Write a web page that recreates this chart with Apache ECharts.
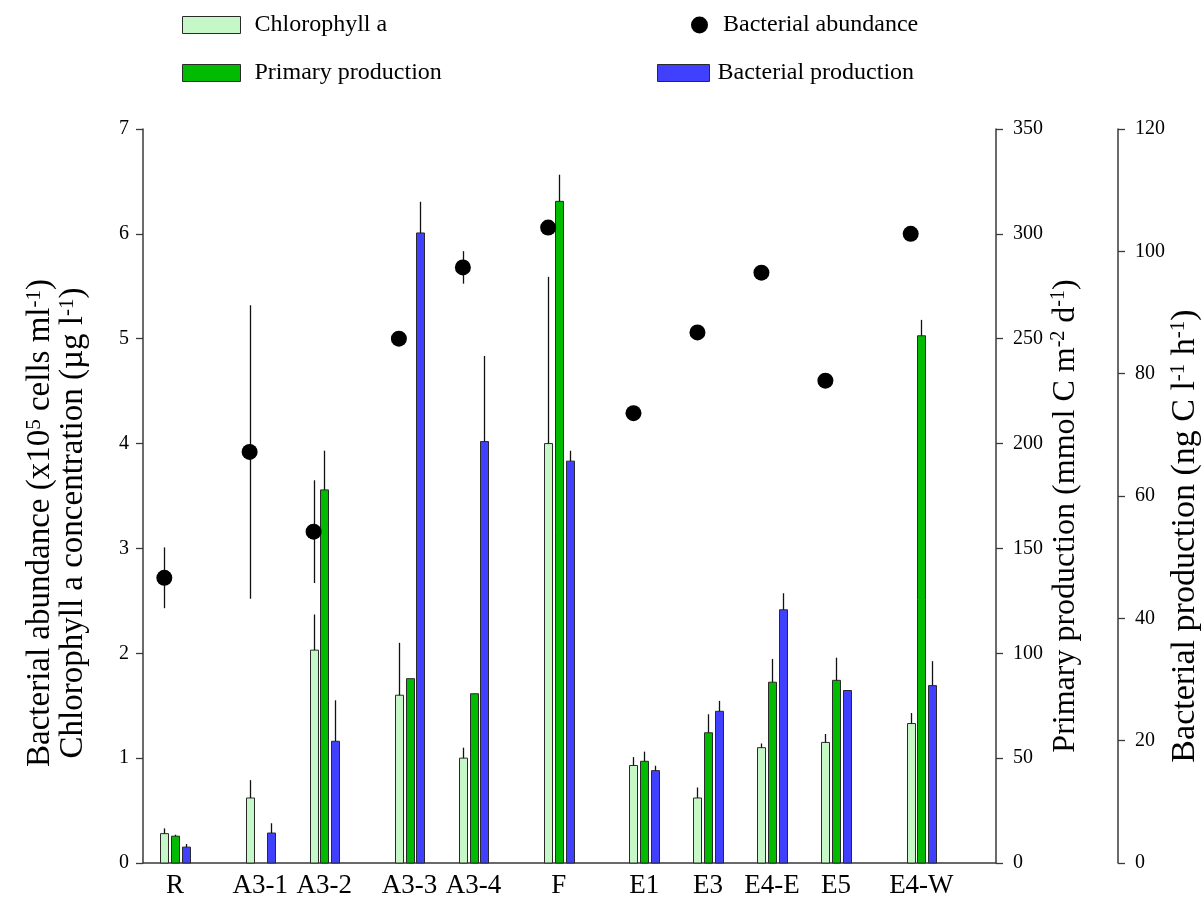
<!DOCTYPE html>
<html>
<head>
<meta charset="utf-8">
<script src="https://cdn.jsdelivr.net/npm/echarts@6/dist/echarts.min.js"></script>
<style>html,body{margin:0;padding:0;background:#fff}#c{width:1202px;height:900px}</style>
</head>
<body>
<div id="c"></div>
<script>
// ---- data ----
const stations = ['R','A3-1','A3-2','A3-3','A3-4','F','E1','E3','E4-E','E5','E4-W'];
const stationPos = [0,4,7,11,14,18,22,25,28,31,35];
const chlA      = [0.28,0.62,2.03,1.60,1.00,4.00,0.93,0.62,1.10,1.15,1.33];
const chlAErr   = [0.05,0.17,0.34,0.50,0.10,1.59,0.08,0.10,0.04,0.08,0.10];
const primProd    = [12.8,null,177.9,87.9,80.7,315.5,48.5,62.1,86.2,87.1,251.4];
const primProdErr = [0.7,null,18.7,0,0,12.7,4.6,8.8,11.1,10.8,7.6];
const bactProd    = [2.6,4.9,19.9,103.0,68.9,65.7,15.1,24.8,41.4,28.2,29.0];
const bactProdErr = [0.5,1.6,6.7,5.1,14.0,1.7,0.8,1.7,2.7,0,4.0];
const bactAbund    = [2.72,3.92,3.16,5.00,5.68,6.06,4.29,5.06,5.63,4.60,6.00];
const bactAbundErr = [0.29,1.40,0.49,0,0.155,0,0,0,0,0,0];
const leftTicks = {min:0,max:7,interval:1};
const ppTicks = {min:0,max:350,interval:50};
const bpTicks = {min:0,max:120,interval:20};

// ---- style ----
const FONT = 'Liberation Serif';
const AXIS_COLOR = '#3a3a3a';
const COL_CHL = '#c6f7c6', COL_PP = '#00bb00', COL_BP = '#4040ff';
const BAR_BORDER = '#2a2a2a';
const SLOT = {chl:-0.5, pp:0, bp:0.5};
const BAR_W = 8;

function barRender(slot, fill) {
  return function (params, api) {
    const x = api.value(0) + slot, v = api.value(1), e = api.value(2);
    if (isNaN(v)) return null;
    const top = api.coord([x, v]);
    const base = api.coord([x, 0]);
    const children = [{
      type: 'rect',
      shape: {x: Math.round(top[0] - BAR_W / 2) + 0.5, y: top[1], width: BAR_W, height: base[1] - top[1]},
      style: {fill: fill, stroke: BAR_BORDER, lineWidth: 1}
    }];
    if (e > 0) {
      const et = api.coord([x, v + e]);
      children.push({type: 'line', shape: {x1: Math.round(top[0]) + 0.5, y1: top[1], x2: Math.round(top[0]) + 0.5, y2: et[1]},
        style: {stroke: '#111', lineWidth: 1.3}});
    }
    return {type: 'group', children: children};
  };
}
function rows(vals, errs) { return stationPos.map((p, i) => [p, vals[i] == null ? NaN : vals[i], errs[i] == null ? 0 : errs[i]]); }

function titleStyles(fs, sfs, lh) {
  return {n: {fontSize: fs, fontFamily: FONT, color: '#000', lineHeight: lh},
          s: {fontSize: sfs, fontFamily: FONT, color: '#000', lineHeight: lh, verticalAlign: 'top'}};
}
const axisCommon = {
  axisLine: {show: true, onZero: false, lineStyle: {color: AXIS_COLOR, width: 1.5}},
  axisTick: {show: true, inside: false, length: 7, lineStyle: {color: AXIS_COLOR, width: 1.3}},
  splitLine: {show: false},
  nameLocation: 'middle', nameRotate: 90, nameMoveOverlap: false
};

const chart = echarts.init(document.getElementById('c'), null, {renderer: 'canvas'});
chart.setOption({
  animation: false,
  backgroundColor: '#fff',
  grid: {left: 143, right: 206, top: 129, bottom: 37, containLabel: false, outerBoundsMode: 'none'},
  legend: [
    {data: [{name: 'Chlorophyll a', icon: 'rect', itemStyle: {color: COL_CHL, borderColor: BAR_BORDER, borderWidth: 1}}],
     left: 177, top: 8, itemWidth: 58, itemHeight: 17, selectedMode: false,
     textStyle: {fontFamily: FONT, fontSize: 24, color: '#000', padding: [0, 0, 0, 9]}},
    {data: [{name: 'Primary production', icon: 'rect', itemStyle: {color: COL_PP, borderColor: BAR_BORDER, borderWidth: 1}}],
     left: 177, top: 56, itemWidth: 58, itemHeight: 17, selectedMode: false,
     textStyle: {fontFamily: FONT, fontSize: 24, color: '#000', padding: [0, 0, 0, 9]}},
    {data: [{name: 'Bacterial abundance', icon: 'circle', itemStyle: {color: '#000', borderWidth: 0}}],
     left: 686, top: 8, itemWidth: 17, itemHeight: 17, selectedMode: false,
     textStyle: {fontFamily: FONT, fontSize: 24, color: '#000', padding: [0, 0, 0, 10]}},
    {data: [{name: 'Bacterial production', icon: 'rect', itemStyle: {color: COL_BP, borderColor: BAR_BORDER, borderWidth: 1}}],
     left: 652, top: 56, itemWidth: 52, itemHeight: 17, selectedMode: false,
     textStyle: {fontFamily: FONT, fontSize: 24, color: '#000', padding: [0, 0, 0, 3]}}
  ],
  xAxis: {type: 'value', min: -1.5, max: 38.5,
    axisLine: {show: true, onZero: false, lineStyle: {color: AXIS_COLOR, width: 1.5}},
    axisTick: {show: false}, axisLabel: {show: false}, splitLine: {show: false}},
  yAxis: [
    Object.assign({}, axisCommon, {type: 'value', position: 'left',
     min: leftTicks.min, max: leftTicks.max, interval: leftTicks.interval,
     axisLabel: {fontFamily: FONT, fontSize: 20, color: '#000', margin: 14},
     name: '{n|Bacterial abundance (x10}{s|5}{n| cells ml}{s|-1}{n|)}\n{n|Chlorophyll a concentration (µg l}{s|-1}{n|)}',
     nameGap: 53,
     nameTextStyle: {fontFamily: FONT, fontSize: 33, color: '#000', lineHeight: 33, padding: [0, 54, 0, 0],
       rich: titleStyles(33, 21, 33)}}),
    Object.assign({}, axisCommon, {type: 'value', position: 'right',
     min: ppTicks.min, max: ppTicks.max, interval: ppTicks.interval,
     axisLabel: {fontFamily: FONT, fontSize: 20, color: '#000', margin: 17},
     name: '{n|Primary production (mmol C m}{s|-2}{n| d}{s|-1}{n|)}',
     nameGap: 53,
     nameTextStyle: {fontFamily: FONT, fontSize: 32, color: '#000', padding: [0, 40, 0, 0],
       rich: titleStyles(32, 20, 33)}}),
    Object.assign({}, axisCommon, {type: 'value', position: 'right', offset: 122,
     min: bpTicks.min, max: bpTicks.max, interval: bpTicks.interval,
     axisLabel: {fontFamily: FONT, fontSize: 20, color: '#000', margin: 17},
     name: '{n|Bacterial production (ng C l}{s|-1}{n| h}{s|-1}{n|)}',
     nameGap: 50,
     nameTextStyle: {fontFamily: FONT, fontSize: 34, color: '#000', padding: [0, 80, 0, 0],
       rich: titleStyles(34, 21, 34)}})
  ],
  series: [
    {name: 'Chlorophyll a', type: 'custom', xAxisIndex: 0, yAxisIndex: 0, itemStyle: {color: COL_CHL},
     renderItem: barRender(SLOT.chl, COL_CHL), data: rows(chlA, chlAErr), encode: {x: 0, y: 1}, z: 2},
    {name: 'Primary production', type: 'custom', xAxisIndex: 0, yAxisIndex: 1, itemStyle: {color: COL_PP},
     renderItem: barRender(SLOT.pp, COL_PP), data: rows(primProd, primProdErr), encode: {x: 0, y: 1}, z: 2},
    {name: 'Bacterial production', type: 'custom', xAxisIndex: 0, yAxisIndex: 2, itemStyle: {color: COL_BP},
     renderItem: barRender(SLOT.bp, COL_BP), data: rows(bactProd, bactProdErr), encode: {x: 0, y: 1}, z: 2},
    {name: 'BA error', type: 'custom', xAxisIndex: 0, yAxisIndex: 0, z: 3,
     data: rows(bactAbund, bactAbundErr), encode: {x: 0, y: 1},
     renderItem: function (params, api) {
       const x = api.value(0) + SLOT.chl, v = api.value(1), e = api.value(2);
       if (!(e > 0)) return null;
       const a = api.coord([x, v - e]), b = api.coord([x, v + e]);
       return {type: 'line', shape: {x1: Math.round(a[0]) + 0.5, y1: a[1], x2: Math.round(a[0]) + 0.5, y2: b[1]}, style: {stroke: '#111', lineWidth: 1.3}};
     }},
    {name: 'Bacterial abundance', type: 'scatter', xAxisIndex: 0, yAxisIndex: 0, z: 4,
     symbol: 'circle', symbolSize: 16, itemStyle: {color: '#000', opacity: 1},
     data: stationPos.map((p, i) => [p + SLOT.chl, bactAbund[i]])},
    {name: 'labels', type: 'custom', xAxisIndex: 0, yAxisIndex: 0, silent: true,
     data: stationPos.map((p, i) => [p, 0, i]), encode: {x: 0, y: 1},
     renderItem: function (params, api) {
       const c = api.coord([api.value(0), 0]);
       return {type: 'text', x: c[0], y: c[1] + 23,
         style: {text: stations[api.value(2)], fontFamily: FONT, fontSize: 27, fill: '#000', align: 'center', verticalAlign: 'middle'}};
     }}
  ]
});
</script>
</body>
</html>
